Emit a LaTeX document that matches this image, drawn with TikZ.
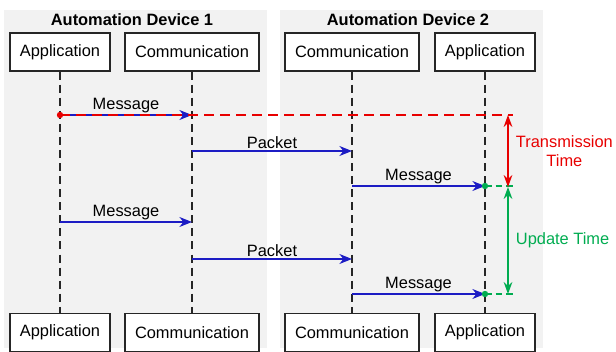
\documentclass[tikz,border=0pt]{standalone}
\usepackage{fontspec}
\setmainfont{Liberation Sans}
\usetikzlibrary{positioning, arrows.meta}

\definecolor{panelgray}{RGB}{242,242,242}
\definecolor{msgblue}{RGB}{28,28,196}
\definecolor{transred}{RGB}{232,0,0}
\definecolor{updgreen}{RGB}{0,172,80}

\begin{document}
\begin{tikzpicture}[x=0.75pt, y=-0.75pt,
    box/.style={draw=black!85, fill=white, line width=0.9pt, minimum height=28.5pt, inner sep=0pt, font=\fontsize{12.3}{14}\selectfont},
    appbox/.style={box, minimum width=75pt},
    combox/.style={box, minimum width=100.5pt},
    title/.style={font=\fontsize{12.3}{14}\selectfont\bfseries},
    label/.style={font=\fontsize{12.3}{14}\selectfont, inner sep=1.5pt},
    lifeline/.style={draw=black!85, line width=0.9pt, dash pattern=on 6pt off 3.8pt},
    msg/.style={-{Stealth[length=9.5pt, width=7.5pt]}, draw=msgblue, line width=0.8pt},
    dot/.style={circle, inner sep=0pt, minimum size=4.8pt}
]

\useasboundingbox (0,0) rectangle (616,352);

% Device panels
\fill[panelgray] (4,10) rectangle (267,348);
\fill[panelgray] (280,10) rectangle (543,348);
\node[title] (dev1) at (132,20) {Automation Device 1};
\node[title] (dev2) at (408,20) {Automation Device 2};

% Top boxes
\node[appbox] (app1t) at (60,52) {Application};
\node[combox] (com1t) at (192,52) {Communication};
\node[combox] (com2t) at (352,52) {Communication};
\node[appbox] (app2t) at (485,52) {Application};

% Bottom boxes
\node[appbox] (app1b) at (60,332.5) {Application};
\node[combox] (com1b) at (192,332.5) {Communication};
\node[combox] (com2b) at (352,332.5) {Communication};
\node[appbox] (app2b) at (485,332.5) {Application};

% Lifelines
\draw[lifeline] (app1t) -- (app1b);
\draw[lifeline] (com1t) -- (com1b);
\draw[lifeline] (com2t) -- (com2b);
\draw[lifeline] (app2t) -- (app2b);

% Message rows
\coordinate (r1) at (0,115);
\coordinate (r2) at (0,151);
\coordinate (r3) at (0,186);
\coordinate (r4) at (0,222);
\coordinate (r5) at (0,259);
\coordinate (r6) at (0,294);

% Messages
\draw[msg] (app1t |- r1) -- node[label, above]{Message} (com1t |- r1);
\draw[msg] (com1t |- r2) -- node[label, above]{Packet} (com2t |- r2);
\draw[msg] (com2t |- r3) -- node[label, above]{Message} (app2t |- r3);
\draw[msg] (app1t |- r4) -- node[label, above]{Message} (com1t |- r4);
\draw[msg] (com1t |- r5) -- node[label, above]{Packet} (com2t |- r5);
\draw[msg] (com2t |- r6) -- node[label, above]{Message} (app2t |- r6);

% Time marks
\coordinate (tx1) at (513,115);
\coordinate (tx2) at (513,186);
\coordinate (tx3) at (513,294);
\coordinate (ta) at (508,115);
\coordinate (tb) at (508,187);
\coordinate (tc) at (508,294);

\draw[transred, line width=0.9pt, dash pattern=on 7.5pt off 4.5pt] (app1t |- r1) -- (tx1);
\draw[updgreen, line width=0.9pt, dash pattern=on 5pt off 3pt] (app2t |- r3) -- (tx2);
\draw[updgreen, line width=0.9pt, dash pattern=on 5pt off 3pt] (app2t |- r6) -- (tx3);

\node[dot, fill=transred] (d1) at (app1t |- r1) {};
\node[dot, fill=updgreen] (d2) at (app2t |- r3) {};
\node[dot, fill=updgreen] (d3) at (app2t |- r6) {};

\draw[{Stealth[length=9pt, width=6.5pt]}-{Stealth[length=9pt, width=6.5pt]}, transred, line width=0.9pt] (ta) -- node[label, right=4pt, align=center, text=transred]{Transmission\\Time} (tb);
\draw[{Stealth[length=9pt, width=6.5pt]}-{Stealth[length=9pt, width=6.5pt]}, updgreen, line width=0.9pt] (tb) -- node[label, right=4pt, text=updgreen]{Update Time} (tc);

\end{tikzpicture}
\end{document}
